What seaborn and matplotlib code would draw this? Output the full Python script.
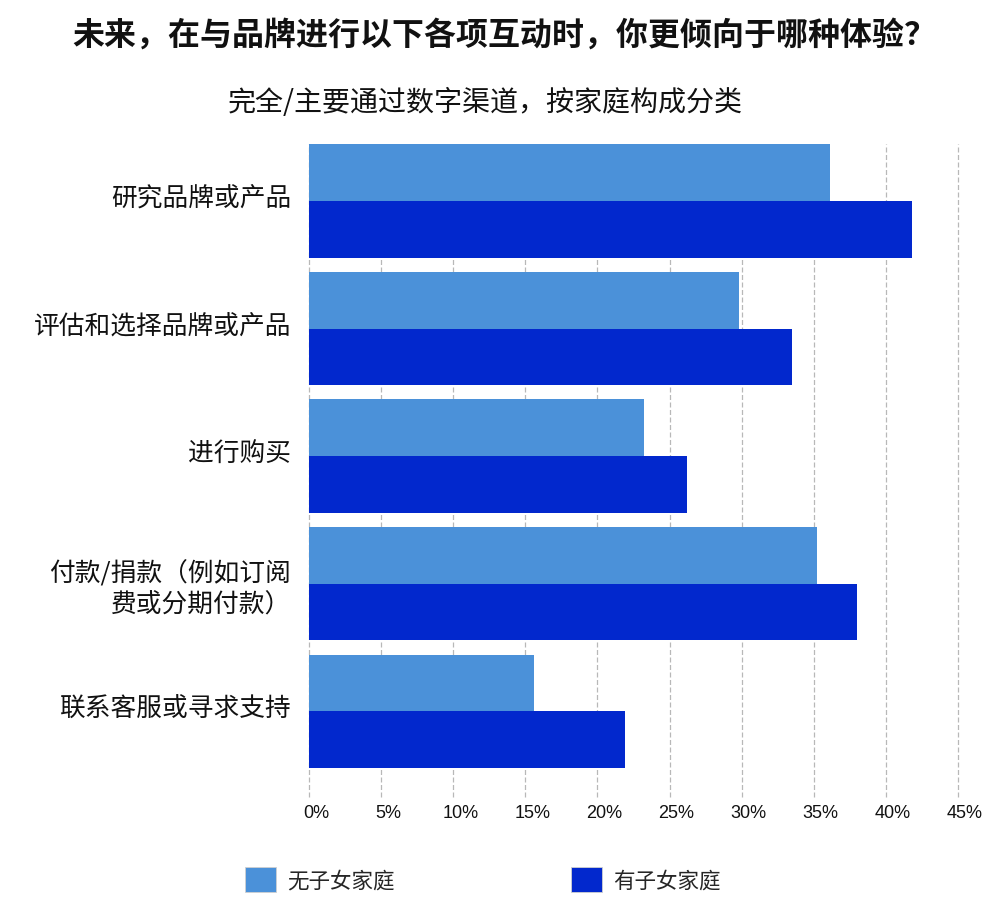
import matplotlib
matplotlib.use("Agg")
import matplotlib.pyplot as plt
import matplotlib.transforms as mtransforms
from matplotlib.patches import Patch
import seaborn as sns
import pandas as pd

categories = ["研究品牌或产品", "评估和选择品牌或产品", "进行购买",
              "付款/捐款（例如订阅\n费或分期付款）", "联系客服或寻求支持"]
series_names = ["无子女家庭", "有子女家庭"]
no_kids = [36.1, 29.8, 23.2, 35.2, 15.6]
with_kids = [41.8, 33.5, 26.2, 38.0, 21.9]
x_ticks = [0, 5, 10, 15, 20, 25, 30, 35, 40, 45]
x_tick_labels = [f"{t}%" for t in x_ticks]
title = "未来，在与品牌进行以下各项互动时，你更倾向于哪种体验？"
subtitle = "完全/主要通过数字渠道，按家庭构成分类"
colors = ["#4B91D9", "#0228CD"]

df = pd.DataFrame({
    "category": categories * 2,
    "series": [series_names[0]] * len(categories) + [series_names[1]] * len(categories),
    "value": no_kids + with_kids,
})

sns.set_theme(style="white")
plt.rcParams["font.family"] = ["Noto Sans CJK SC", "DejaVu Sans"]

fig = plt.figure(figsize=(10, 9.2), dpi=100)
ax = fig.add_axes([0.309, 0.1326, 0.649, 0.7095])

sns.barplot(data=df, y="category", x="value", hue="series", orient="h",
            order=categories, hue_order=series_names, palette=colors,
            width=0.89, linewidth=0, saturation=1, legend=False, ax=ax)

ax.set_xlim(0, 45)
ax.set_ylim(4.672, -0.445)
ax.set_xticks(x_ticks)
ax.set_xticklabels(x_tick_labels, fontfamily="Liberation Sans", fontsize=13, color="#111111")
ax.set_xlabel("")
ax.set_ylabel("")
for s in ax.spines.values():
    s.set_visible(False)
ax.tick_params(axis="x", length=0, pad=5)
ax.tick_params(axis="y", length=0, pad=13)
for lab in ax.get_yticklabels():
    lab.set_fontsize(18.5)
    lab.set_color("#111111")
    multi = "\n" in lab.get_text()
    lab.set_linespacing(1.25)
    dy = 0 if multi else 5
    lab.set_transform(lab.get_transform() + mtransforms.ScaledTranslation(0, dy / 100, fig.dpi_scale_trans))
for lab in ax.get_xticklabels():
    lab.set_transform(lab.get_transform() + mtransforms.ScaledTranslation(7 / 100, 0, fig.dpi_scale_trans))

ax.grid(axis="x", color="#b8b8b8", linestyle=(0, (4, 2)), linewidth=0.9)
ax.grid(axis="y", visible=False)
ax.set_axisbelow(True)
for gl in ax.xaxis.get_gridlines():
    gl.set_clip_on(False)

fig.text(0.504, 0.961, title, ha="center", va="center", fontsize=23, fontweight="bold", color="#111111")
fig.text(0.485, 0.888, subtitle, ha="center", va="center", fontsize=20.2, color="#111111")

handles = [Patch(facecolor=c, edgecolor="#d0d0d0", linewidth=0.6) for c in colors]
fig.legend(handles, series_names, loc="center left", bbox_to_anchor=(0.245, 0.0429),
           ncol=2, frameon=False, fontsize=15.5, handlelength=1.45, handleheight=1.45,
           handletextpad=0.5, columnspacing=8.2, borderpad=0, borderaxespad=0)

fig.savefig("out.png", dpi=100)
